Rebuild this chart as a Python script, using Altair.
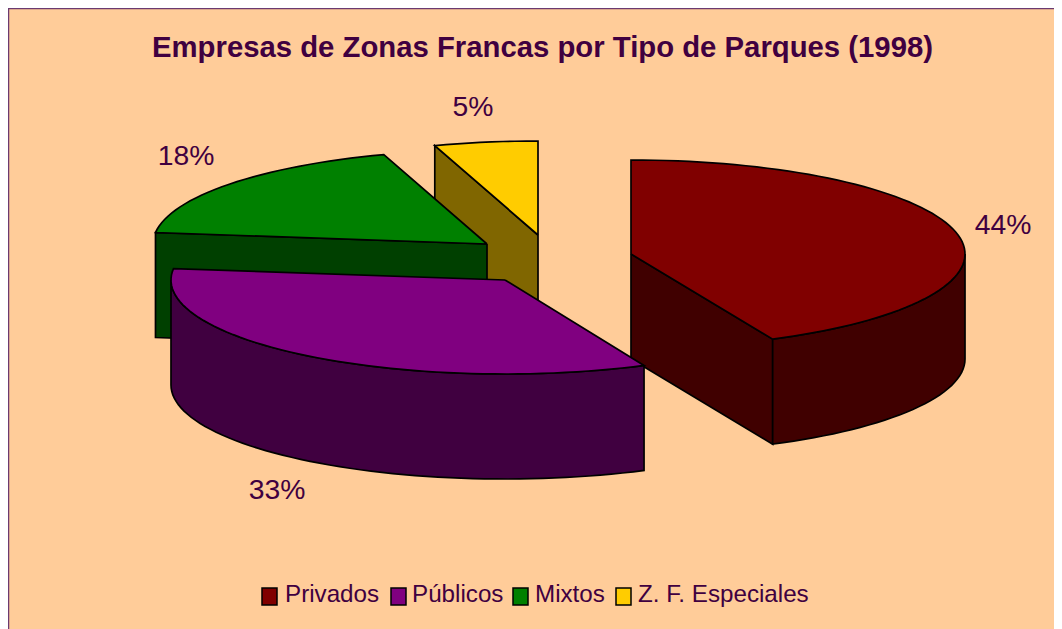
import math
import altair as alt
import pandas as pd

categories = ["Privados", "Públicos", "Mixtos", "Z. F. Especiales"]
percent_labels = ["44%", "33%", "18%", "5%"]
# slice edges (degrees clockwise from 12 o'clock)
start_deg = [0.0, 155.4, 277.0, 342.0]
end_deg = [154.9, 277.0, 342.0, 360.0]
# exploded slice apexes, page pixels
apex_x = [631, 505, 487, 538]
apex_y = [254, 280, 244, 235]
top_colors = ["#800000", "#800080", "#008000", "#FFCC00"]
side_colors = ["#400000", "#400040", "#004000", "#806600"]
RX, RY, DEPTH = 334, 94, 105

label_x = [1003, 277, 186, 473]
label_y = [226, 491, 157, 108]
legend_box_x = [262, 391, 513, 616]
legend_text_x = [285, 412, 535, 638]
TITLE = "Empresas de Zonas Francas por Tipo de Parques (1998)"
INK = "#400040"
BG = "#FFCC99"

X = alt.Scale(domain=[8, 1054], range=[0, 1046], nice=False, zero=False)
Y = alt.Scale(domain=[8, 629], range=[0, 621], nice=False, zero=False)


def rim(i, a, b, dy=0.0):
    n = max(2, int(abs(b - a) / 2))
    pts = []
    for k in range(n + 1):
        t = math.radians(a + (b - a) * k / n)
        pts.append((apex_x[i] + RX * math.sin(t), apex_y[i] - RY * math.cos(t) + dy))
    return pts


def poly(points, fill):
    rows = [{"px": p[0], "py": p[1], "o": k} for k, p in enumerate(points + points[:1])]
    return (
        alt.Chart(pd.DataFrame(rows))
        .mark_line(fill=fill, stroke="black", strokeWidth=1.7, interpolate="linear", strokeJoin="miter")
        .encode(
            x=alt.X("px:Q", scale=X, axis=None),
            y=alt.Y("py:Q", scale=Y, axis=None),
            order=alt.Order("o:Q"),
        )
    )


def edge_face(i, deg):
    p = rim(i, deg, deg)[0]
    a = (apex_x[i], apex_y[i])
    return [a, p, (p[0], p[1] + DEPTH), (a[0], a[1] + DEPTH)]


def top_face(i):
    return [(apex_x[i], apex_y[i])] + rim(i, start_deg[i], end_deg[i])


def outer_face(i, a, b):
    return rim(i, a, b) + rim(i, b, a, DEPTH)


layers = [
    poly(edge_face(3, start_deg[3]), side_colors[3]),
    poly(top_face(3), top_colors[3]),
    poly(edge_face(2, start_deg[2]), side_colors[2]),
    poly(top_face(2), top_colors[2]),
    poly(edge_face(0, end_deg[0]), side_colors[0]),
    poly(outer_face(0, 90, end_deg[0]), side_colors[0]),
    poly(top_face(0), top_colors[0]),
    poly(outer_face(1, start_deg[1], 270), side_colors[1]),
    poly(top_face(1), top_colors[1]),
]

border = pd.DataFrame({"x1": [8, 8.5], "x2": [1054, 8.5], "y1": [8.5, 8], "y2": [8.5, 629]})
layers.insert(
    0,
    alt.Chart(border)
    .mark_rule(color="#6B3A70", strokeWidth=1.5)
    .encode(
        x=alt.X("x1:Q", scale=X, axis=None),
        x2="x2:Q",
        y=alt.Y("y1:Q", scale=Y, axis=None),
        y2="y2:Q",
    ),
)

labels = pd.DataFrame({"t": percent_labels, "px": label_x, "py": label_y})
layers.append(
    alt.Chart(labels)
    .mark_text(font="Liberation Sans", fontSize=28.3, color=INK, align="center", baseline="middle")
    .encode(x=alt.X("px:Q", scale=X, axis=None), y=alt.Y("py:Q", scale=Y, axis=None), text="t:N")
)

layers.append(
    alt.Chart(pd.DataFrame({"t": [TITLE], "px": [542.5], "py": [48]}))
    .mark_text(font="Liberation Sans", fontWeight="bold", fontSize=29.3, color=INK, align="center", baseline="middle")
    .encode(x=alt.X("px:Q", scale=X, axis=None), y=alt.Y("py:Q", scale=Y, axis=None), text="t:N")
)

boxes = pd.DataFrame({
    "x1": legend_box_x,
    "x2": [v + 15 for v in legend_box_x],
    "y1": [588] * 4,
    "y2": [605] * 4,
    "c": top_colors,
})
layers.append(
    alt.Chart(boxes)
    .mark_rect(stroke="black", strokeWidth=1.5)
    .encode(
        x=alt.X("x1:Q", scale=X, axis=None),
        x2="x2:Q",
        y=alt.Y("y1:Q", scale=Y, axis=None),
        y2="y2:Q",
        fill=alt.Fill("c:N", scale=None),
    )
)
legend_text = pd.DataFrame({"t": categories, "px": legend_text_x, "py": [595] * 4})
layers.append(
    alt.Chart(legend_text)
    .mark_text(font="Liberation Sans", fontSize=24.2, color=INK, align="left", baseline="middle")
    .encode(x=alt.X("px:Q", scale=X, axis=None), y=alt.Y("py:Q", scale=Y, axis=None), text="t:N")
)

chart = (
    alt.layer(*layers)
    .properties(width=1046, height=621, background=BG, padding=0, autosize=alt.AutoSizeParams(type="none"))
    .configure_view(stroke=None)
)
chart.save("out.html", embed_options={"renderer": "svg", "actions": False})
